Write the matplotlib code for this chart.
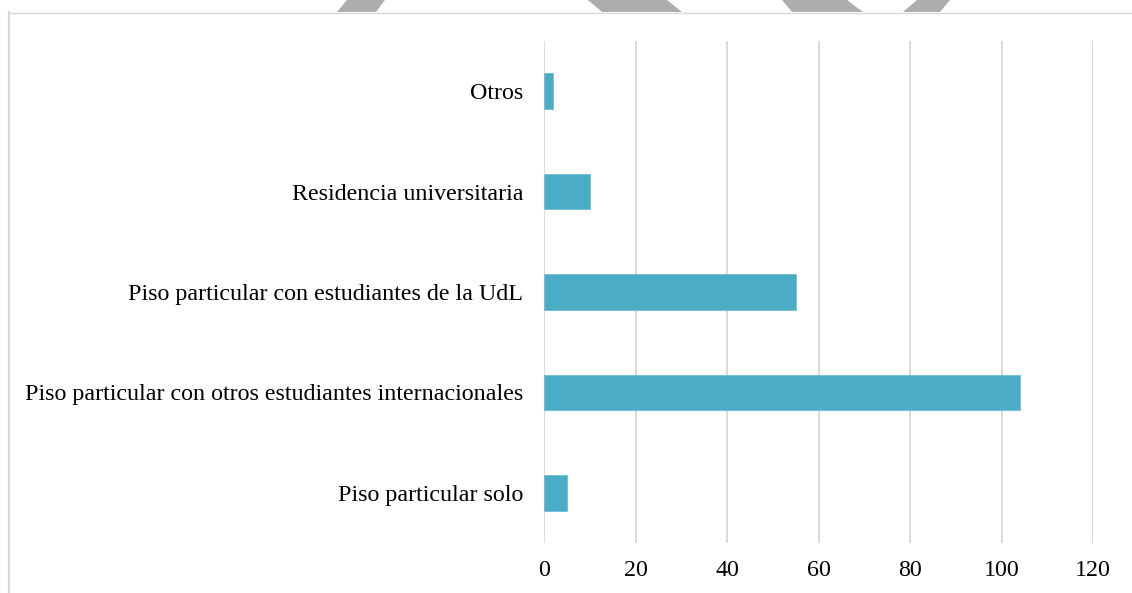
import matplotlib
matplotlib.use("Agg")
import matplotlib.pyplot as plt
from matplotlib.patches import Polygon
from matplotlib.lines import Line2D

categories = ["Piso particular solo",
              "Piso particular con otros estudiantes internacionales",
              "Piso particular con estudiantes de la UdL",
              "Residencia universitaria",
              "Otros"]
values = [5, 104, 55, 10, 2]
xticks = [0, 20, 40, 60, 80, 100, 120]

W, H = 1132, 593
fig = plt.figure(figsize=(W / 100, H / 100), dpi=100)
plt.rcParams['font.family'] = ['Liberation Serif', 'DejaVu Serif']

def fx(x):
    return x / W

def fy(y):
    return 1 - y / H

ax = fig.add_axes([fx(544), fy(543), fx(1093) - fx(544), fy(41) - fy(543)])
ax.barh(range(len(categories)), values, height=0.355, color="#4BACC6",
        edgecolor="#6fbfd4", linewidth=0.6, zorder=3)
ax.set_ylim(-0.5, len(categories) - 0.5)
ax.set_xlim(0, 120)
ax.set_xticks(xticks)
ax.set_xticklabels([str(t) for t in xticks], fontsize=17.3)
ax.set_yticks(range(len(categories)))
ax.set_yticklabels(categories, fontsize=17.3)
ax.tick_params(axis="both", length=0, colors="black")
ax.tick_params(axis="x", pad=12)
ax.tick_params(axis="y", pad=15)
ax.grid(axis="x", color="#d9d9d9", linewidth=1.4, zorder=0)
ax.grid(axis="y", visible=False)
for s in ax.spines.values():
    s.set_visible(False)

# outer frame (cropped chart border)
fig.add_artist(Line2D([fx(8.5), fx(8.5)], [fy(12), fy(600)], color="#d9d9d9", linewidth=1.6))
fig.add_artist(Line2D([fx(8.5), fx(1140)], [fy(12.5), fy(12.5)], color="#d9d9d9", linewidth=1.0))

# decorative chevrons above the frame
shapes = [
    [(347, 0), (385, 0), (376, 12), (337, 12)],
    [(588, 0), (667, 0), (682, 12), (602, 12)],
    [(782, 0), (847, 0), (863, 12), (792, 12)],
    [(917, 0), (950, 0), (940, 12), (903, 12)],
]
for pts in shapes:
    fig.add_artist(Polygon([(fx(x), fy(y)) for x, y in pts], closed=True,
                           facecolor="#adadad", edgecolor="none"))

fig.savefig("out.png", dpi=100)
